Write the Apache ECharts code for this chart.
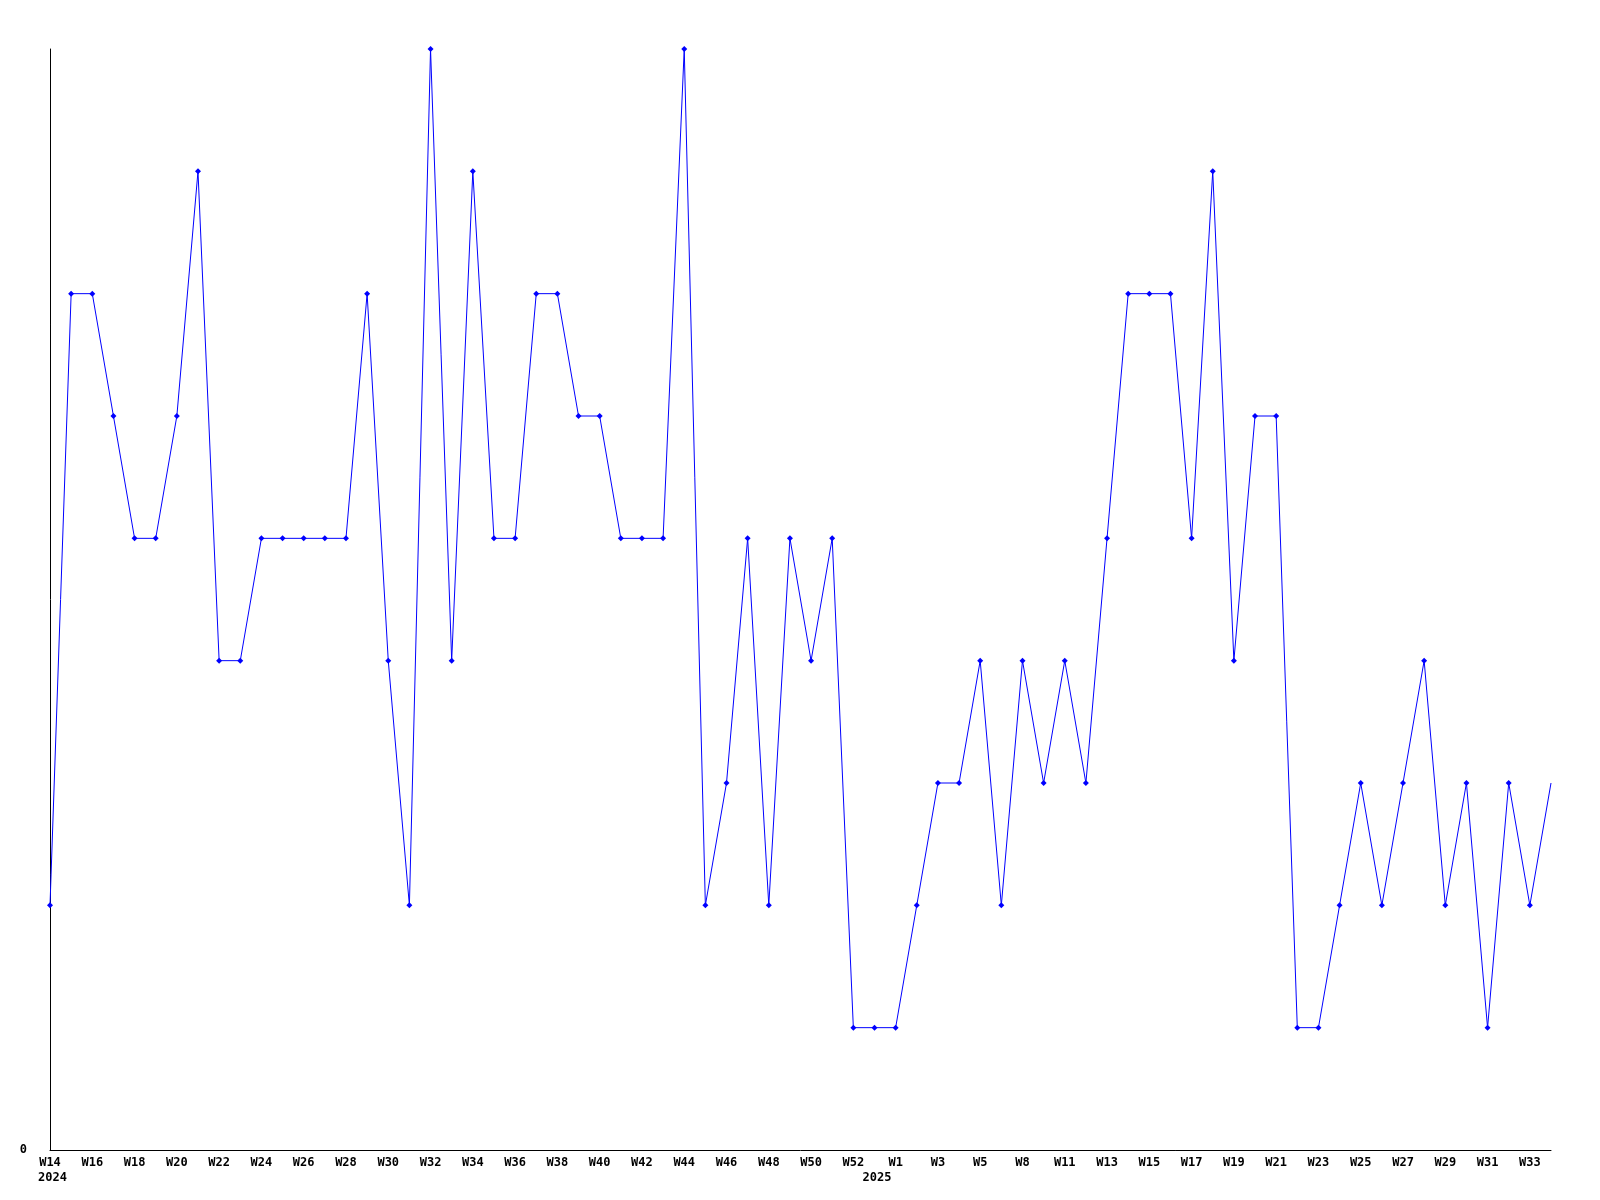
<!DOCTYPE html>
<html>
<head>
<meta charset="utf-8">
<script src="https://cdn.jsdelivr.net/npm/echarts@6/dist/echarts.min.js"></script>
<style>html,body{margin:0;padding:0;background:#fff}#c{width:1600px;height:1200px}</style>
</head>
<body>
<div id="c"></div>
<script>
const weeks = [
  "W14","W15","W16","W17","W18","W19","W20","W21","W22","W23",
  "W24","W25","W26","W27","W28","W29","W30","W31","W32","W33",
  "W34","W35","W36","W37","W38","W39","W40","W41","W42","W43",
  "W44","W45","W46","W47","W48","W49","W50","W51","W52","W53",
  "W1","W2","W3","W4","W5","W6","W8","W9","W11","W12",
  "W13","W14","W15","W16","W17","W18","W19","W20","W21","W22",
  "W23","W24","W25","W26","W27","W28","W29","W30","W31","W32",
  "W33","W34"
];
const yearLabels = {0: "2024", 39: "2025"};
const values = [
  2,7,7,6,5,5,6,8,4,4,
  5,5,5,5,5,7,4,2,9,4,
  8,5,5,7,7,6,6,5,5,5,
  9,2,3,5,2,5,4,5,1,1,
  1,2,3,3,4,2,4,3,4,3,
  5,7,7,7,5,8,4,6,6,1,
  1,2,3,2,3,4,2,3,1,3,
  2,3
];
const yTicks = [0];

const font = {fontFamily: "DejaVu Sans Mono", fontWeight: "bold", fontSize: 12, color: "#000"};
const chart = echarts.init(document.getElementById('c'), null, {renderer: 'canvas'});
const seriesData = values.map((v, i) => i === values.length - 1 ? {value: v, symbol: 'none'} : v);
chart.setOption({
  animation: false,
  backgroundColor: '#fff',
  grid: {left: 50, right: 49, top: 49, bottom: 50, containLabel: false},
  xAxis: [{
    type: 'category', data: weeks, boundaryGap: false,
    axisLine: {show: true, lineStyle: {color: '#000', width: 1}},
    axisTick: {show: false}, splitLine: {show: false},
    axisLabel: Object.assign({interval: 1, margin: 7}, font)
  }, {
    type: 'category', data: weeks, boundaryGap: false, position: 'bottom',
    axisLine: {show: false}, axisTick: {show: false}, splitLine: {show: false},
    axisLabel: Object.assign({interval: 0, margin: 22, padding: [0, 0, 0, 5], formatter: (v, i) => yearLabels[i] || ''}, font)
  }],
  yAxis: {
    type: 'value', min: 0, max: 9, interval: 9,
    axisLine: {show: true, lineStyle: {color: '#000', width: 1}},
    axisTick: {show: false}, splitLine: {show: false},
    axisLabel: Object.assign({margin: 23, formatter: v => yTicks.includes(v) ? String(v) : ''}, font)
  },
  series: [{
    type: 'line', data: seriesData, xAxisIndex: 0,
    lineStyle: {color: '#0000ff', width: 1},
    itemStyle: {color: '#0000ff'},
    symbol: 'diamond', symbolSize: 6, showSymbol: true
  }]
});
</script>
</body>
</html>
